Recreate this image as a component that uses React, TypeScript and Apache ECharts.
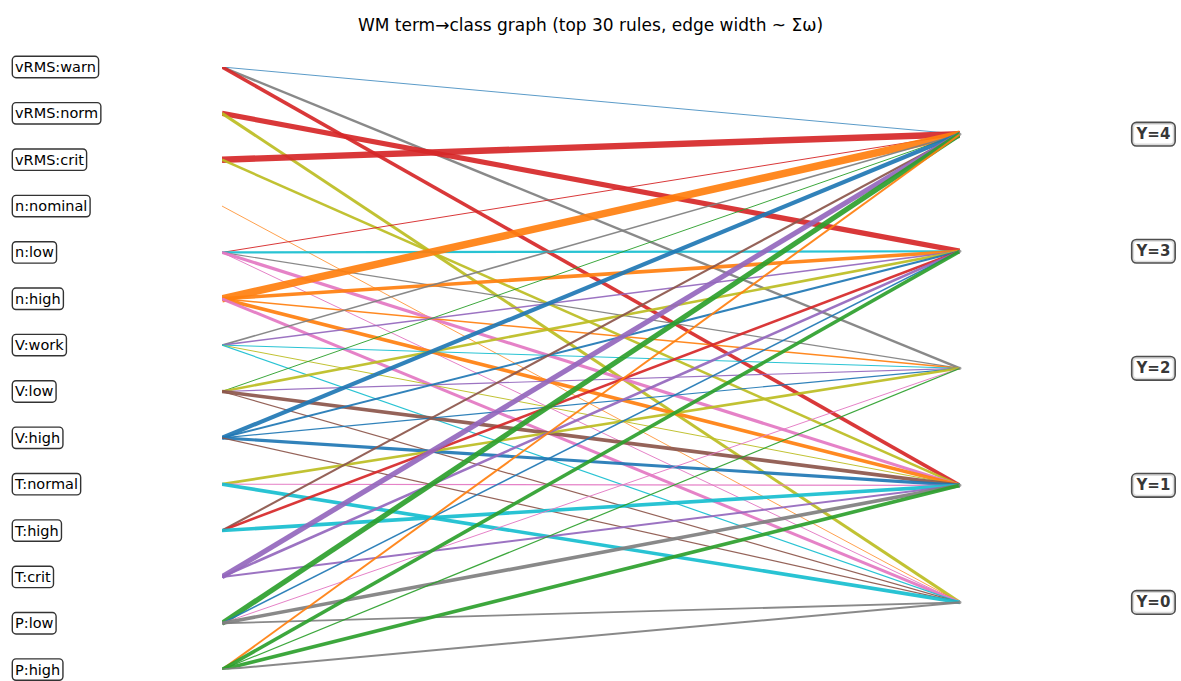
import React, { useEffect, useRef } from "react";
import * as echarts from "echarts";

// Left-hand antecedent terms (top to bottom)
const terms = [
  "vRMS:warn", "vRMS:norm", "vRMS:crit", "n:nominal", "n:low", "n:high",
  "V:work", "V:low", "V:high", "T:normal", "T:high", "T:crit", "P:low", "P:high",
];

// Right-hand classes
const classes = ["Y=0", "Y=1", "Y=2", "Y=3", "Y=4"];

// Edges: [term, class, Σω (edge width)]
const edges: [string, string, number][] = [
  ["vRMS:warn", "Y=4", 0.8], ["vRMS:warn", "Y=2", 2.4], ["vRMS:warn", "Y=1", 3.6],
  ["vRMS:norm", "Y=3", 5.2], ["vRMS:norm", "Y=0", 3],
  ["vRMS:crit", "Y=4", 6.4], ["vRMS:crit", "Y=1", 2.5],
  ["n:nominal", "Y=0", 0.8],
  ["n:low", "Y=4", 1], ["n:low", "Y=3", 2.2], ["n:low", "Y=2", 1.2], ["n:low", "Y=1", 3.2], ["n:low", "Y=0", 1],
  ["n:high", "Y=4", 7.5], ["n:high", "Y=3", 3.6], ["n:high", "Y=2", 1.5], ["n:high", "Y=1", 3.6], ["n:high", "Y=0", 3],
  ["V:work", "Y=4", 1.6], ["V:work", "Y=3", 1.6], ["V:work", "Y=2", 1], ["V:work", "Y=1", 1], ["V:work", "Y=0", 1.2],
  ["V:low", "Y=4", 1], ["V:low", "Y=3", 2.6], ["V:low", "Y=2", 1.2], ["V:low", "Y=1", 3.6], ["V:low", "Y=0", 1.2],
  ["V:high", "Y=4", 4.2], ["V:high", "Y=3", 2.1], ["V:high", "Y=2", 1.2], ["V:high", "Y=1", 3.1], ["V:high", "Y=0", 1.2],
  ["T:normal", "Y=2", 2.6], ["T:normal", "Y=1", 1.2], ["T:normal", "Y=0", 3.6],
  ["T:high", "Y=4", 2.1], ["T:high", "Y=3", 2.6], ["T:high", "Y=1", 3.6],
  ["T:crit", "Y=4", 5.2], ["T:crit", "Y=3", 2.6], ["T:crit", "Y=1", 2],
  ["P:low", "Y=4", 5.2], ["P:low", "Y=3", 1.5], ["P:low", "Y=2", 1], ["P:low", "Y=1", 3.6], ["P:low", "Y=0", 1.8],
  ["P:high", "Y=4", 2], ["P:high", "Y=3", 3.6], ["P:high", "Y=2", 1.2], ["P:high", "Y=1", 3.6], ["P:high", "Y=0", 2],
];

// Colour index (tab10) of each edge, same order as edges
const edgeColorIdx = [
  0, 7, 3,
  3, 8,
  3, 8,
  1,
  3, 9, 7, 6, 6,
  1, 1, 1, 1, 6,
  7, 4, 9, 8, 9,
  2, 8, 4, 5, 5,
  0, 0, 0, 0, 5,
  8, 6, 9,
  5, 3, 9,
  4, 4, 4,
  2, 0, 6, 7, 7,
  1, 2, 2, 2, 7,
];

const tab10 = [
  "#1f77b4", "#ff7f0e", "#2ca02c", "#d62728", "#9467bd",
  "#8c564b", "#e377c2", "#7f7f7f", "#bcbd22", "#17becf",
];

const FONT = "DejaVu Sans";

export default function App() {
  const ref = useRef<HTMLDivElement>(null);

  useEffect(() => {
    if (!ref.current) return;
    const chart = echarts.init(ref.current, undefined, { renderer: "svg" });
    const mid = (terms.length - 1) / 2;
    const classPos = (k: number) => mid + (2 - k) * 2.525;

    const lineData = edges.map(([t, c, w], i) => ({
      coords: [
        [0, terms.indexOf(t)],
        [1, classPos(classes.indexOf(c))],
      ],
      lineStyle: { color: tab10[edgeColorIdx[i]], width: w, opacity: 0.92 },
    }));

    chart.setOption({
      animation: false,
      title: {
        text: "WM term→class graph (top 30 rules, edge width ~ Σω)",
        left: "center",
        top: 11,
        textStyle: { fontFamily: FONT, fontSize: 17, fontWeight: "normal", color: "#000" },
      },
      grid: { left: 222, right: 221, top: 67, bottom: 9 },
      xAxis: { type: "value", min: 0, max: 1, show: false },
      yAxis: {
        type: "value",
        min: 0,
        max: terms.length - 1,
        interval: 1,
        inverse: true,
        axisLine: { show: false },
        axisTick: { show: false },
        splitLine: { show: false },
        axisLabel: {
          formatter: (v: number) => terms[Math.round(v)] ?? "",
          align: "left",
          margin: 209,
          fontFamily: FONT,
          fontSize: 14.5,
          color: "#000",
          padding: [3, 2, 2, 2],
          borderColor: "#333",
          borderWidth: 1.4,
          borderRadius: 3,
          backgroundColor: "#fff",
        },
      },
      series: [
        {
          type: "lines",
          coordinateSystem: "cartesian2d",
          silent: true,
          data: lineData,
        },
        {
          type: "scatter",
          silent: true,
          symbolSize: 3,
          itemStyle: { color: "#888" },
          data: classes.map((c, k) => ({ name: c, value: [1, classPos(k)] })),
          label: {
            show: true,
            position: "right",
            distance: 171,
            formatter: (p: any) => p.name,
            fontFamily: FONT,
            fontSize: 15,
            fontWeight: "bold",
            color: "#000",
            padding: [4, 4, 3, 4],
            borderColor: "#222",
            borderWidth: 1.6,
            borderRadius: 4,
            backgroundColor: "#fff",
          },
        },
      ],
    });
    return () => chart.dispose();
  }, []);

  return (
    <div
      ref={ref}
      style={{ position: "absolute", left: 0, top: 0, width: 1181, height: 681, background: "#fff" }}
    />
  );
}
